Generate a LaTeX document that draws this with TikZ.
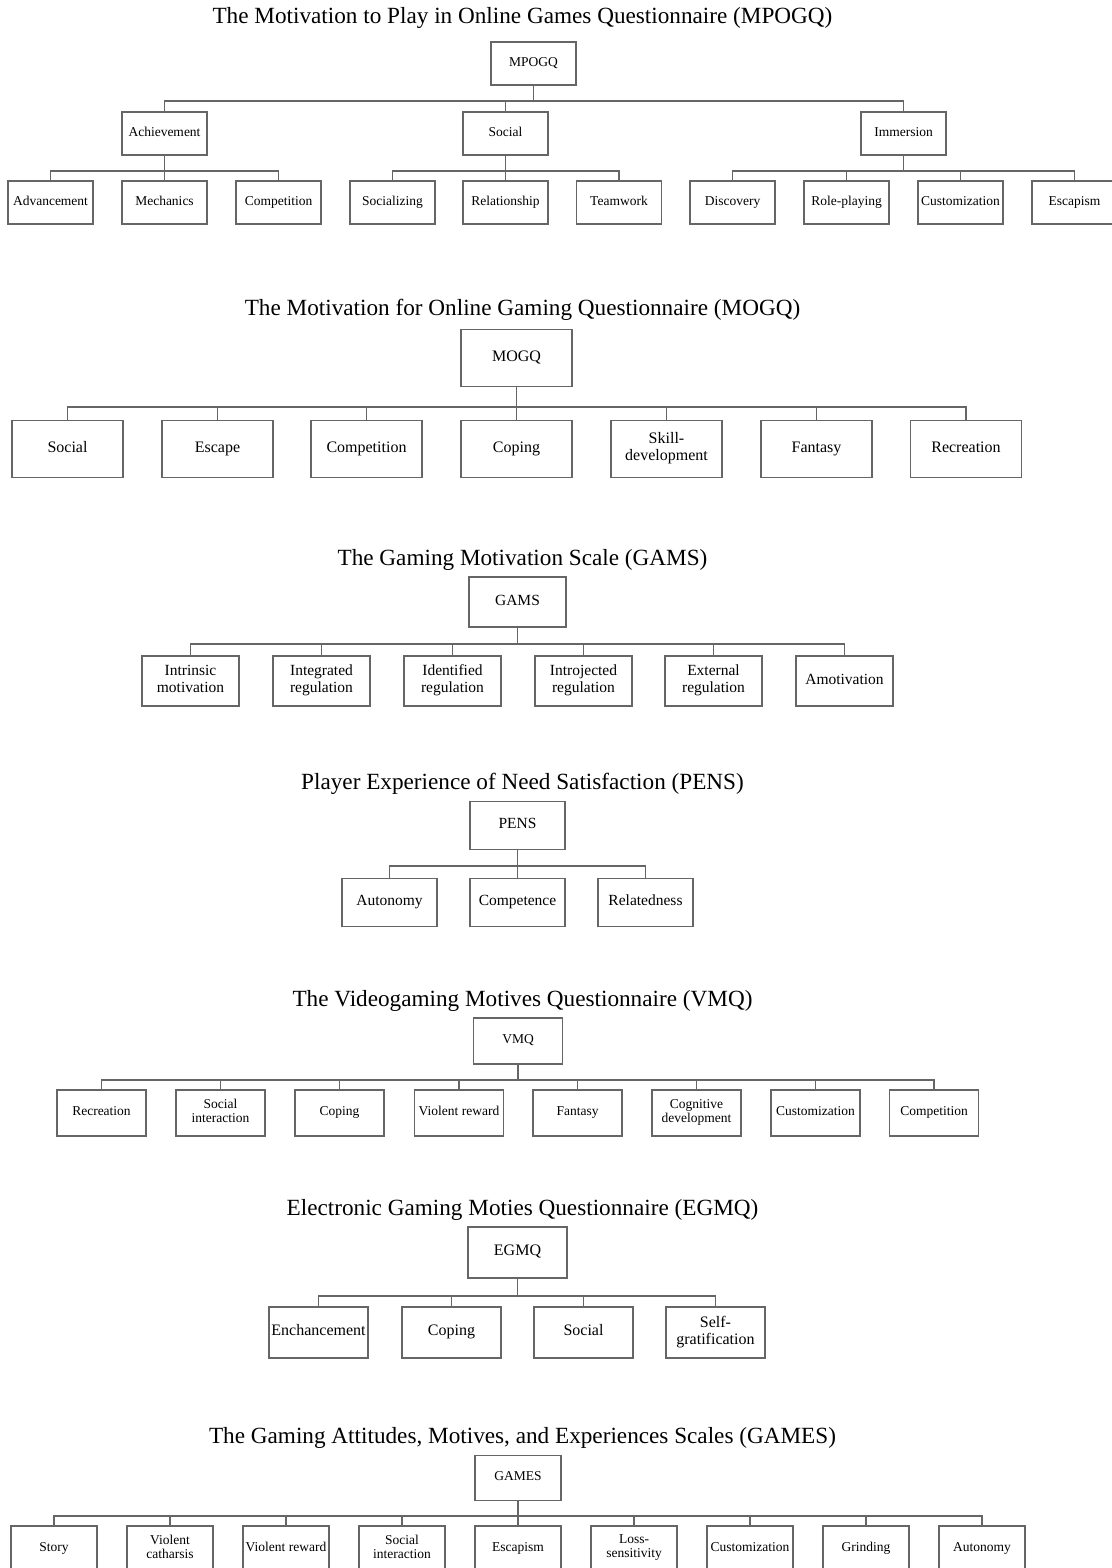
\documentclass[tikz,border=0pt]{standalone}
\usepackage{fontspec}
\setmainfont{Liberation Serif}
\usepackage{tikz}
\tikzstyle{link} = [draw=black!60, line width=1.1pt]
\tikzstyle{title} = [font=\fontsize{23.2}{27}\selectfont]
\tikzstyle{box} = [draw=black!60, line width=1.1pt, inner sep=1pt, align=center,
                   execute at begin node=\strut, execute at end node=\strut]
\tikzstyle{mpogqbox} = [box, minimum width=85, minimum height=43, font=\fontsize{13.5}{15}\selectfont]
\tikzstyle{mogqbox} = [box, minimum width=111, minimum height=57, font=\fontsize{16}{17}\selectfont]
\tikzstyle{gamsbox} = [box, minimum width=97, minimum height=50, font=\fontsize{15.5}{17}\selectfont]
\tikzstyle{pensbox} = [box, minimum width=95, minimum height=48, font=\fontsize{15.5}{17}\selectfont]
\tikzstyle{vmqbox} = [box, minimum width=89, minimum height=46, font=\fontsize{13.5}{14}\selectfont]
\tikzstyle{egmqbox} = [box, minimum width=99, minimum height=51, font=\fontsize{16}{17}\selectfont]
\tikzstyle{gamesbox} = [box, minimum width=86, minimum height=45, font=\fontsize{13.5}{14}\selectfont]

\begin{document}
\begin{tikzpicture}[x=1pt, y=-1pt]
				\useasboundingbox (0, 0) rectangle (1111, 1568);

				% MPOGQ
				\node (MPOGQTitle) [title] at (522.5, 18) {The Motivation to Play in Online Games Questionnaire (MPOGQ)};
				\node (MPOGQ) [mpogqbox] at (533.5, 63.5) {MPOGQ};
				\coordinate (MPOGQBus) at (533.5, 101);
				\draw [link] (MPOGQ) -- (MPOGQBus);

				\node (Achievement) [mpogqbox] at (164.5, 133.5) {Achievement};
				\draw [link] (Achievement) |- (MPOGQBus);
				\node (MPOGQSocial) [mpogqbox] at (505.5, 133.5) {Social};
				\draw [link] (MPOGQSocial) |- (MPOGQBus);
				\node (Immersion) [mpogqbox] at (903.5, 133.5) {Immersion};
				\draw [link] (Immersion) |- (MPOGQBus);

				% achievement
				\coordinate (AchievementBus) at (164.5, 171);
				\draw [link] (Achievement) -- (AchievementBus);
				\node (Advancement) [mpogqbox] at (50.5, 202.5) {Advancement};
				\draw [link] (Advancement) |- (AchievementBus);
				\node (Mechanics) [mpogqbox] at (164.5, 202.5) {Mechanics};
				\draw [link] (Mechanics) -- (AchievementBus);
				\node (MPOGQCompetition) [mpogqbox] at (278.5, 202.5) {Competition};
				\draw [link] (MPOGQCompetition) |- (AchievementBus);

				% social
				\coordinate (MPOGQSocialBus) at (505.5, 171);
				\draw [link] (MPOGQSocial) -- (MPOGQSocialBus);
				\node (Socializing) [mpogqbox] at (392.5, 202.5) {Socializing};
				\draw [link] (Socializing) |- (MPOGQSocialBus);
				\node (Relationship) [mpogqbox] at (505.5, 202.5) {Relationship};
				\draw [link] (Relationship) -- (MPOGQSocialBus);
				\node (Teamwork) [mpogqbox] at (619, 202.5) {Teamwork};
				\draw [link] (Teamwork) |- (MPOGQSocialBus);

				% immersion
				\coordinate (ImmersionBus) at (903.5, 171);
				\draw [link] (Immersion) -- (ImmersionBus);
				\node (Discovery) [mpogqbox] at (732.5, 202.5) {Discovery};
				\draw [link] (Discovery) |- (ImmersionBus);
				\node (RolePlaying) [mpogqbox] at (846.5, 202.5) {Role-playing};
				\draw [link] (RolePlaying) |- (ImmersionBus);
				\node (MPOGQCustomization) [mpogqbox] at (960.5, 202.5) {Customization};
				\draw [link] (MPOGQCustomization) |- (ImmersionBus);
				\node (MPOGQEscapism) [mpogqbox] at (1074.5, 202.5) {Escapism};
				\draw [link] (MPOGQEscapism) |- (ImmersionBus);

				% MOGQ
				\node (MOGQTitle) [title] at (522.5, 310) {The Motivation for Online Gaming Questionnaire (MOGQ)};
				\node (MOGQ) [mogqbox] at (516.5, 358) {MOGQ};
				\coordinate (MOGQBus) at (516.5, 407);
				\draw [link] (MOGQ) -- (MOGQBus);

				\node (MOGQSocial) [mogqbox] at (67.5, 449) {Social};
				\draw [link] (MOGQSocial) |- (MOGQBus);
				\node (MOGQEscape) [mogqbox] at (217.5, 449) {Escape};
				\draw [link] (MOGQEscape) |- (MOGQBus);
				\node (MOGQCompetition) [mogqbox] at (366.5, 449) {Competition};
				\draw [link] (MOGQCompetition) |- (MOGQBus);
				\node (MOGQCoping) [mogqbox] at (516.5, 449) {Coping};
				\draw [link] (MOGQCoping) -- (MOGQBus);
				\node (MOGQSkill) [mogqbox] at (666.5, 449) {Skill-\\development};
				\draw [link] (MOGQSkill) |- (MOGQBus);
				\node (MOGQFantasy) [mogqbox] at (816.5, 449) {Fantasy};
				\draw [link] (MOGQFantasy) |- (MOGQBus);
				\node (MOGQRecreation) [mogqbox] at (966, 449) {Recreation};
				\draw [link] (MOGQRecreation) |- (MOGQBus);

				% GAMS
				\node (GAMSTitle) [title] at (522.5, 560) {The Gaming Motivation Scale (GAMS)};
				\node (GAMS) [gamsbox] at (517.5, 602) {GAMS};
				\coordinate (GAMSBus) at (517.5, 644);
				\draw [link] (GAMS) -- (GAMSBus);

				\node (Intrinsic) [gamsbox] at (190.5, 681) {Intrinsic\\motivation};
				\draw [link] (Intrinsic) |- (GAMSBus);
				\node (Integrated) [gamsbox] at (321.5, 681) {Integrated\\regulation};
				\draw [link] (Integrated) |- (GAMSBus);
				\node (Identified) [gamsbox] at (452.5, 681) {Identified\\regulation};
				\draw [link] (Identified) |- (GAMSBus);
				\node (Introjected) [gamsbox] at (583.5, 681) {Introjected\\regulation};
				\draw [link] (Introjected) |- (GAMSBus);
				\node (External) [gamsbox] at (713.5, 681) {External\\regulation};
				\draw [link] (External) |- (GAMSBus);
				\node (Amotivation) [gamsbox] at (844.5, 681) {Amotivation};
				\draw [link] (Amotivation) |- (GAMSBus);

				% PENS
				\node (PENSTitle) [title] at (522.5, 784) {Player Experience of Need Satisfaction (PENS)};
				\node (PENS) [pensbox] at (517.5, 825.5) {PENS};
				\coordinate (PENSBus) at (517.5, 866);
				\draw [link] (PENS) -- (PENSBus);

				\node (PENSAutonomy) [pensbox] at (389.5, 902.5) {Autonomy};
				\draw [link] (PENSAutonomy) |- (PENSBus);
				\node (Competence) [pensbox] at (517.5, 902.5) {Competence};
				\draw [link] (Competence) -- (PENSBus);
				\node (Relatedness) [pensbox] at (645.5, 902.5) {Relatedness};
				\draw [link] (Relatedness) |- (PENSBus);

				% VMQ
				\node (VMQTitle) [title] at (522.5, 1001) {The Videogaming Motives Questionnaire (VMQ)};
				\node (VMQ) [vmqbox] at (518, 1041) {VMQ};
				\coordinate (VMQBus) at (518, 1080);
				\draw [link] (VMQ) -- (VMQBus);

				\node (VMQRecreation) [vmqbox] at (101.5, 1113) {Recreation};
				\draw [link] (VMQRecreation) |- (VMQBus);
				\node (VMQSocial) [vmqbox] at (220.5, 1113) {Social\\interaction};
				\draw [link] (VMQSocial) |- (VMQBus);
				\node (VMQCoping) [vmqbox] at (339.5, 1113) {Coping};
				\draw [link] (VMQCoping) |- (VMQBus);
				\node (VMQViolent) [vmqbox] at (459, 1113) {Violent reward};
				\draw [link] (VMQViolent) |- (VMQBus);
				\node (VMQFantasy) [vmqbox] at (577.5, 1113) {Fantasy};
				\draw [link] (VMQFantasy) |- (VMQBus);
				\node (VMQCognitive) [vmqbox] at (696.5, 1113) {Cognitive\\development};
				\draw [link] (VMQCognitive) |- (VMQBus);
				\node (VMQCustomization) [vmqbox] at (815.5, 1113) {Customization};
				\draw [link] (VMQCustomization) |- (VMQBus);
				\node (VMQCompetition) [vmqbox] at (934, 1113) {Competition};
				\draw [link] (VMQCompetition) |- (VMQBus);

				% EGMQ
				\node (EGMQTitle) [title] at (522.5, 1210) {Electronic Gaming Moties Questionnaire (EGMQ)};
				\node (EGMQ) [egmqbox] at (517.5, 1252.5) {EGMQ};
				\coordinate (EGMQBus) at (517.5, 1296);
				\draw [link] (EGMQ) -- (EGMQBus);

				\node (Enchancement) [egmqbox] at (318.5, 1332.5) {Enchancement};
				\draw [link] (Enchancement) |- (EGMQBus);
				\node (EGMQCoping) [egmqbox] at (451.5, 1332.5) {Coping};
				\draw [link] (EGMQCoping) |- (EGMQBus);
				\node (EGMQSocial) [egmqbox] at (583.5, 1332.5) {Social};
				\draw [link] (EGMQSocial) |- (EGMQBus);
				\node (SelfGratification) [egmqbox] at (715.5, 1332.5) {Self-\\gratification};
				\draw [link] (SelfGratification) |- (EGMQBus);

				% GAMES
				\node (GAMESTitle) [title] at (522.5, 1438) {The Gaming Attitudes, Motives, and Experiences Scales (GAMES)};
				\node (GAMES) [gamesbox] at (518, 1478) {GAMES};
				\coordinate (GAMESBus) at (518, 1516);
				\draw [link] (GAMES) -- (GAMESBus);

				\node (Story) [gamesbox] at (54, 1548.5) {Story};
				\draw [link] (Story) |- (GAMESBus);
				\node (Catharsis) [gamesbox] at (170, 1548.5) {Violent\\catharsis};
				\draw [link] (Catharsis) |- (GAMESBus);
				\node (GAMESViolent) [gamesbox] at (286, 1548.5) {Violent reward};
				\draw [link] (GAMESViolent) |- (GAMESBus);
				\node (GAMESSocial) [gamesbox] at (402, 1548.5) {Social\\interaction};
				\draw [link] (GAMESSocial) |- (GAMESBus);
				\node (GAMESEscapism) [gamesbox] at (518, 1548.5) {Escapism};
				\draw [link] (GAMESEscapism) -- (GAMESBus);
				\node (LossSensitivity) [gamesbox] at (634, 1548.5) {Loss-\\sensitivity};
				\draw [link] (LossSensitivity) |- (GAMESBus);
				\node (GAMESCustomization) [gamesbox] at (750, 1548.5) {Customization};
				\draw [link] (GAMESCustomization) |- (GAMESBus);
				\node (Grinding) [gamesbox] at (866, 1548.5) {Grinding};
				\draw [link] (Grinding) |- (GAMESBus);
				\node (GAMESAutonomy) [gamesbox] at (982, 1548.5) {Autonomy};
				\draw [link] (GAMESAutonomy) |- (GAMESBus);
\end{tikzpicture}
\end{document}
